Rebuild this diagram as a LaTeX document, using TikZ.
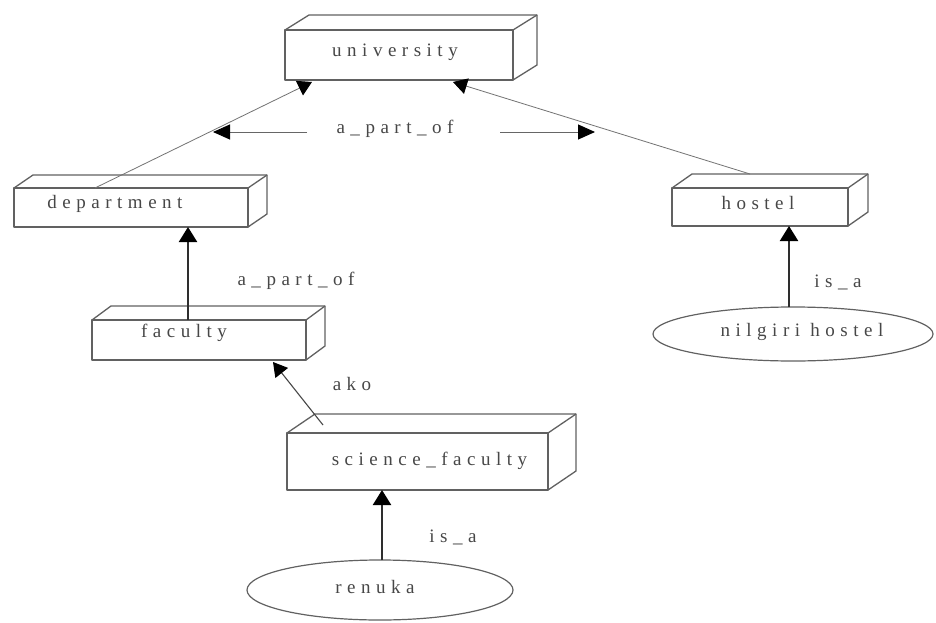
\documentclass[tikz,border=0pt]{standalone}
\usepackage{fontspec}
\usetikzlibrary{arrows.meta,shapes.geometric}
\newfontfamily\lblfont{Liberation Serif}[LetterSpace=29]

\tikzset{
  boxline/.style={draw=black!62, line width=1.3pt, line join=round},
  cuboid/.style={rectangle, boxline, inner sep=0pt, outer sep=0pt},
  oval/.style={ellipse, draw=black!62, line width=1.2pt, inner sep=0pt, outer sep=0pt},
  txt/.style={font=\lblfont\fontsize{19}{22}\selectfont, text=black!72},
  isa/.style={draw=black!82, line width=2.2pt, -{Triangle[width=18pt,length=15pt,color=black]}},
  partof/.style={draw=black!55, line width=0.8pt, -{Triangle[width=16pt,length=14pt,color=black]}},
  sidearrow/.style={draw=black!60, line width=1pt, -{Triangle[width=15pt,length=17pt,color=black]}},
}

% top and right faces of a box drawn in perspective
\newcommand\boxdepth[3]{%
  \draw[boxline] (#1.north west) -- ++(#2,#3) -- ([shift={(#2,#3)}]#1.north east)
        -- ([shift={(#2,#3)}]#1.south east) -- (#1.south east);
  \draw[boxline] ([shift={(#2,#3)}]#1.north east) -- (#1.north east);}

\begin{document}
\begin{tikzpicture}[x=1pt,y=-1pt]
\useasboundingbox[fill=white] (0,0) rectangle (936,623);

% boxes
\node[cuboid, minimum width=228pt, minimum height=50pt,
  label={[txt, xshift=-4pt, yshift=3pt]center:university}] (university) at (399,55) {};
\boxdepth{university}{24}{-15}

\node[cuboid, minimum width=234pt, minimum height=39pt,
  label={[txt, xshift=-16pt, yshift=4pt]center:department}] (department) at (131,207.5) {};
\boxdepth{department}{19}{-13}

\node[cuboid, minimum width=214pt, minimum height=40pt,
  label={[txt, xshift=-15pt, yshift=7pt]center:faculty}] (faculty) at (199,340) {};
\boxdepth{faculty}{19}{-14}

\node[cuboid, minimum width=261pt, minimum height=57pt,
  label={[txt, xshift=12pt, yshift=1pt]center:science\_faculty}] (science) at (417.5,461.5) {};
\boxdepth{science}{28}{-19}

\node[cuboid, minimum width=176pt, minimum height=38pt,
  label={[txt, xshift=-2pt, yshift=4pt]center:hostel}] (hostel) at (760,207) {};
\boxdepth{hostel}{20}{-14}

% instances
\node[oval, minimum width=266pt, minimum height=60pt,
  label={[txt, xshift=-5pt, yshift=3pt]center:renuka}] (renuka) at (380,590) {};
\node[oval, minimum width=280pt, minimum height=54pt,
  label={[txt, xshift=9pt, yshift=2pt]center:nilgiri hostel}] (nilgiri) at (793,334) {};

% relation labels
\node[txt] (lblpart) at (395,129) {a\_part\_of};
\coordinate (pl0) at (307,132);
\coordinate (pl1) at (213,132);
\coordinate (pr0) at (500,132);
\coordinate (pr1) at (595,132);
\node[txt] (lblpartb) at (296,281) {a\_part\_of};
\node[txt] (lblako) at (352,384) {ako};
\node[txt] (lblisa) at (838,282) {is\_a};
\node[txt] (lblisab) at (453,537) {is\_a};

% connectors
\draw[partof] ([xshift=81pt]department.north west) -- ([shift={(27,2)}]university.south west);
\draw[partof] ([shift={(78,-14)}]hostel.north west) -- ([shift={(168,2)}]university.south west);
\draw[sidearrow] (pl0) -- (pl1);
\draw[sidearrow] (pr0) -- (pr1);
\draw[isa] ([xshift=96pt]faculty.north west) -- ([xshift=96pt]faculty.north west |- department.south);
\draw[partof, line width=1.1pt, draw=black!72] ([shift={(36,-8)}]science.north west) -- ([shift={(181,2)}]faculty.south west);
\draw[isa] ([xshift=2pt]renuka.north) -- ([xshift=2pt]renuka.north |- science.south);
\draw[isa] ([xshift=-4pt]nilgiri.north) -- ([xshift=-4pt]nilgiri.north |- hostel.south);
\end{tikzpicture}
\end{document}
